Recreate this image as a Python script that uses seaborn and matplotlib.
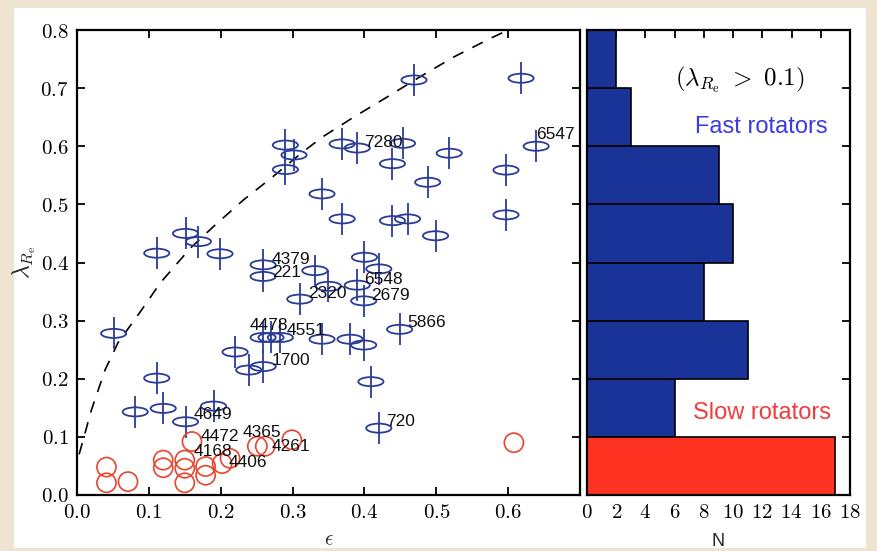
import numpy as np
import matplotlib
matplotlib.use("Agg")
import matplotlib.pyplot as plt
from matplotlib.path import Path
from matplotlib.patches import Rectangle
from matplotlib.ticker import FuncFormatter, MultipleLocator, FixedLocator
import seaborn as sns

# ---------------- data ----------------
fast_eps = [0.051, 0.111, 0.081, 0.120, 0.151, 0.190, 0.111, 0.151, 0.169, 0.199,
            0.290, 0.302, 0.290, 0.341, 0.469, 0.618, 0.369, 0.390, 0.453, 0.439,
            0.518, 0.488, 0.597, 0.639, 0.369, 0.439, 0.460, 0.499, 0.597, 0.400,
            0.420, 0.390, 0.399, 0.350, 0.331, 0.310, 0.259, 0.259, 0.449, 0.380,
            0.399, 0.341, 0.409, 0.420, 0.259, 0.270, 0.283, 0.220, 0.239, 0.259]
fast_lam = [0.278, 0.201, 0.143, 0.149, 0.126, 0.153, 0.416, 0.450, 0.436, 0.415,
            0.602, 0.585, 0.560, 0.518, 0.714, 0.717, 0.604, 0.597, 0.605, 0.570,
            0.588, 0.538, 0.559, 0.600, 0.475, 0.472, 0.475, 0.446, 0.482, 0.409,
            0.389, 0.361, 0.334, 0.359, 0.386, 0.337, 0.396, 0.376, 0.285, 0.268,
            0.258, 0.268, 0.195, 0.115, 0.271, 0.271, 0.271, 0.246, 0.215, 0.221]

slow_eps = [0.041, 0.041, 0.071, 0.120, 0.120, 0.150, 0.150, 0.150, 0.160,
            0.179, 0.179, 0.202, 0.213, 0.251, 0.262, 0.299, 0.608]
slow_lam = [0.048, 0.021, 0.023, 0.060, 0.047, 0.060, 0.046, 0.021, 0.092,
            0.049, 0.034, 0.054, 0.063, 0.084, 0.084, 0.095, 0.090]

# isotropic model curve
curve_eps = [0.003, 0.020, 0.039, 0.057, 0.088, 0.116, 0.158, 0.190, 0.232,
             0.270, 0.316, 0.343, 0.385, 0.432, 0.478, 0.525, 0.576, 0.600]
curve_lam = [0.070, 0.146, 0.215, 0.262, 0.315, 0.365, 0.425, 0.462, 0.508,
             0.545, 0.592, 0.617, 0.650, 0.685, 0.720, 0.754, 0.786, 0.800]

label_names = ["7280", "6547", "4379", "221", "2320", "6548", "2679", "4478", "4551",
               "1700", "5866", "720", "4649", "4472", "4365", "4261", "4168", "4406"]
label_eps = [0.399, 0.639, 0.271, 0.271, 0.321, 0.400, 0.410, 0.240, 0.292,
             0.271, 0.460, 0.430, 0.162, 0.172, 0.230, 0.271, 0.162, 0.211]
label_lam = [0.606, 0.620, 0.406, 0.383, 0.347, 0.371, 0.344, 0.291, 0.283,
             0.232, 0.296, 0.126, 0.139, 0.101, 0.108, 0.084, 0.075, 0.056]

# histogram of lambda_Re (counts)
fast_bins = [0.1, 0.2, 0.3, 0.4, 0.5, 0.6, 0.7, 0.8]
fast_counts = [6, 11, 8, 10, 9, 3, 2]
slow_bins = [0.0, 0.1]
slow_counts = [17]

eps_ticks = [0.0, 0.1, 0.2, 0.3, 0.4, 0.5, 0.6]
n_ticks = [0, 2, 4, 6, 8, 10, 12, 14, 16, 18]

# ---------------- style ----------------
sns.set_theme(style="white")
plt.rcParams["font.family"] = ["Liberation Sans", "DejaVu Sans"]
plt.rcParams["mathtext.fontset"] = "cm"

BLUE_M = "#2a3c98"
RED_M = "#e8452f"
BLUE_BAR = "#1a3399"
RED_BAR = "#ff3322"

W, H = 878, 551
fig = plt.figure(figsize=(W / 100, H / 100), dpi=100)
fig.patch.set_facecolor("#efe4d1")
fig.patches.append(Rectangle((14 / W, 3 / H), (866 - 14) / W, (543 - 3) / H,
                             transform=fig.transFigure, facecolor="white",
                             edgecolor="none", zorder=-10))

ax = fig.add_axes([77 / W, 1 - 495 / H, (580 - 77) / W, (495 - 30) / H])
axh = fig.add_axes([587 / W, 1 - 495 / H, (850 - 587) / W, (495 - 30) / H])
for a in (ax, axh):
    a.set_facecolor("white")
    for s in a.spines.values():
        s.set_color("black")
        s.set_linewidth(1.6)
        s.set_visible(True)

# ellipse marker
circ = Path.unit_circle()
ell = Path(circ.vertices * np.array([1.0, 0.36]), circ.codes)

# ---------------- left panel ----------------
sns.lineplot(x=curve_eps, y=curve_lam, sort=False, ax=ax, color="black",
             linewidth=1.2, linestyle=(0, (7, 6)), zorder=1)
sns.scatterplot(x=fast_eps, y=fast_lam, ax=ax, marker=ell, s=330,
                facecolor="none", edgecolor=BLUE_M, linewidth=1.3, zorder=3)
sns.scatterplot(x=fast_eps, y=fast_lam, ax=ax, marker="|", s=500,
                color=BLUE_M, linewidth=1.3, zorder=3)
sns.scatterplot(x=slow_eps, y=slow_lam, ax=ax, marker="o", s=190,
                facecolor="none", edgecolor=RED_M, linewidth=1.2, zorder=3)

for name, xe, yl in zip(label_names, label_eps, label_lam):
    ax.text(xe, yl, name, fontsize=12.5, color="#111111", ha="left", va="center",
            zorder=4)

ax.set_xlim(0, 0.7)
ax.set_ylim(0, 0.8)
ax.xaxis.set_major_locator(FixedLocator(eps_ticks))
ax.yaxis.set_major_locator(MultipleLocator(0.1))
fmt1 = FuncFormatter(lambda v, p: f"${v:.1f}$")
ax.xaxis.set_major_formatter(fmt1)
ax.yaxis.set_major_formatter(fmt1)
ax.tick_params(direction="in", length=6, width=1.3, top=True, right=True,
               bottom=True, left=True, labelsize=15, pad=6, colors="black")
ax.set_xlabel(r"$\epsilon$", fontsize=15, labelpad=6)
ax.set_ylabel(r"$\lambda_{R_{\rm e}}$", fontsize=17, labelpad=2)

# ---------------- right panel ----------------
sns.histplot(y=[(a + b) / 2 for a, b in zip(fast_bins[:-1], fast_bins[1:])],
             weights=fast_counts, bins=fast_bins, ax=axh, color=BLUE_BAR,
             alpha=1, edgecolor="black", linewidth=1.2)
sns.histplot(y=[(a + b) / 2 for a, b in zip(slow_bins[:-1], slow_bins[1:])],
             weights=slow_counts, bins=slow_bins, ax=axh, color=RED_BAR,
             alpha=1, edgecolor="black", linewidth=1.2)

axh.set_xlim(0, 18)
axh.set_ylim(0, 0.8)
axh.xaxis.set_major_locator(FixedLocator(n_ticks))
axh.yaxis.set_major_locator(MultipleLocator(0.1))
axh.xaxis.set_major_formatter(FuncFormatter(lambda v, p: f"${int(round(v))}$"))
axh.tick_params(direction="in", length=6, width=1.3, top=True, right=True,
                bottom=True, left=True, labelsize=15, pad=6, colors="black",
                labelleft=False)
axh.set_ylabel("")
axh.set_xlabel("N", fontsize=13, labelpad=8)

axh.text(10.45, 0.714, r"$(\lambda_{R_{\rm e}}\ >\ 0.1)$", fontsize=18,
         ha="center", va="center", color="black")
axh.text(11.9, 0.633, "Fast rotators", fontsize=17, ha="center", va="center",
         color="#3b3be0")
axh.text(12.0, 0.141, "Slow rotators", fontsize=17, ha="center", va="center",
         color="#f03c3c")

fig.savefig("out.png", dpi=100, facecolor=fig.get_facecolor())
